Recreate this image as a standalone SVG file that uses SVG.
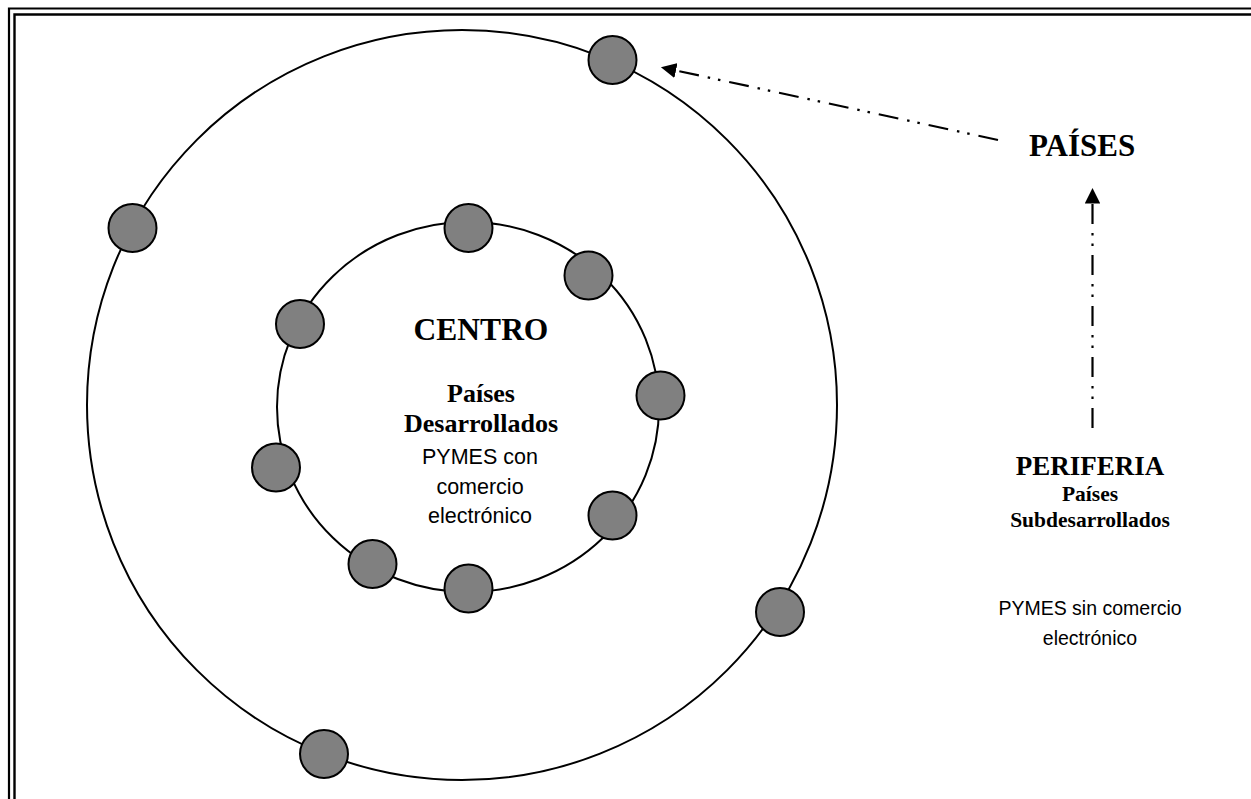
<svg xmlns="http://www.w3.org/2000/svg" width="1251" height="799" viewBox="0 0 1251 799">
<style>
.ring{fill:none;stroke:#000;stroke-width:2}
.dot{fill:#808080;stroke:#000;stroke-width:2}
.frame{fill:none;stroke:#000}
.tb{font-family:"Liberation Serif","Times New Roman",serif;font-weight:bold;fill:#000;text-anchor:middle}
.ta{font-family:"Liberation Sans",Arial,sans-serif;fill:#000;text-anchor:middle}
.conn{fill:none;stroke:#000;stroke-width:2.2;stroke-dasharray:20 9 2.5 8 2.5 9}
</style>
<defs>
<marker id="ah" viewBox="0 0 10 10" refX="0" refY="5" markerWidth="7" markerHeight="7" markerUnits="strokeWidth" orient="auto">
<path d="M0,0 L10,5 L0,10 Z" fill="#000"/>
</marker>
</defs>
<rect width="1251" height="799" fill="#fff"/>
<g id="frame">
<path class="frame" stroke-width="2.2" d="M9,810 V8.5 H1260"/>
<path class="frame" stroke-width="2.4" d="M14.5,810 V14.5 H1260"/>
</g>
<g id="outer-ring"><circle class="ring" cx="462" cy="405" r="375"/></g>
<g id="inner-ring"><ellipse class="ring" cx="468" cy="407" rx="191" ry="185"/></g>
<g id="outer-nodes">
<circle id="o1" class="dot" cx="612.5" cy="60" r="24"/>
<circle id="o2" class="dot" cx="132.5" cy="228" r="24"/>
<circle id="o3" class="dot" cx="780" cy="612" r="24"/>
<circle id="o4" class="dot" cx="324" cy="754" r="24"/>
</g>
<g id="inner-nodes">
<circle id="i1" class="dot" cx="468.5" cy="228" r="24"/>
<circle id="i2" class="dot" cx="588.5" cy="275.5" r="24"/>
<circle id="i3" class="dot" cx="300" cy="324" r="24"/>
<circle id="i4" class="dot" cx="660.5" cy="395.5" r="24"/>
<circle id="i5" class="dot" cx="276" cy="467.5" r="24"/>
<circle id="i6" class="dot" cx="612.5" cy="515.5" r="24"/>
<circle id="i7" class="dot" cx="372.5" cy="564" r="24"/>
<circle id="i8" class="dot" cx="468.5" cy="588.5" r="24"/>
</g>
<g id="centro">
<text class="tb" x="481" y="340" font-size="31.5">CENTRO</text>
<text class="tb" x="481" y="402" font-size="26">Países</text>
<text class="tb" x="481" y="432" font-size="26">Desarrollados</text>
<text class="ta" x="480" y="464" font-size="21.5">PYMES con</text>
<text class="ta" x="480" y="494" font-size="21.5">comercio</text>
<text class="ta" x="480" y="523" font-size="21.5">electrónico</text>
</g>
<g id="paises">
<text class="tb" x="1082" y="156" font-size="31">PAÍSES</text>
</g>
<g id="periferia">
<text class="tb" x="1090" y="475" font-size="27">PERIFERIA</text>
<text class="tb" x="1090" y="501" font-size="21.5">Países</text>
<text class="tb" x="1090" y="527" font-size="21.5">Subdesarrollados</text>
<text class="ta" x="1090" y="615" font-size="19.5">PYMES sin comercio</text>
<text class="ta" x="1090" y="645" font-size="19.5">electrónico</text>
</g>
<g id="connectors">
<path class="conn" marker-end="url(#ah)" d="M998,140 L676,70.5"/>
<path class="conn" marker-end="url(#ah)" d="M1092.5,428 L1092.5,203.5"/>
</g>
</svg>
